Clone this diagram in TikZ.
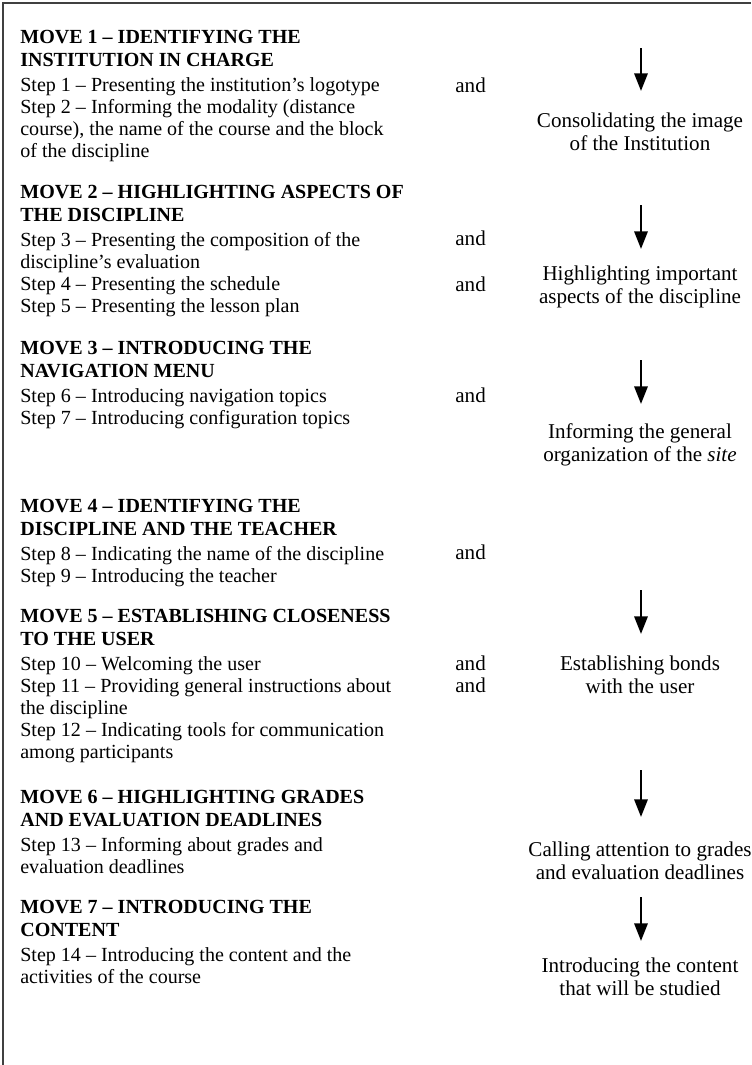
\documentclass[tikz,border=0pt]{standalone}
\usepackage{fontspec}
\setmainfont{Liberation Serif}
\usetikzlibrary{arrows.meta,positioning}

\begin{document}
\begin{tikzpicture}[x=0.02cm,y=-0.02cm,
  movetext/.style={anchor=north west,align=left,inner sep=0pt,font=\fontsize{11.4}{12.6}\selectfont},
  andtext/.style={anchor=base west,inner sep=0pt,font=\fontsize{12}{12.6}\selectfont},
  goal/.style={anchor=north,align=center,inner sep=0pt,font=\fontsize{12}{13.2}\selectfont},
  flow/.style={line width=1.4pt,-{Triangle[width=7.5pt,length=10pt]}},
  frame/.style={line width=0.8pt,black!75}]
\useasboundingbox (0,0) rectangle (751,1065);
\draw[frame] (3,1065) -- (3,3) -- (751,3);

% left column: moves and steps
\node[movetext] (m1) at (20,30.3) {\textbf{MOVE 1 – IDENTIFYING THE}\\ \textbf{INSTITUTION IN CHARGE}\\[1.6pt]
Step 1 – Presenting the institution’s logotype\\
Step 2 – Informing the modality (distance\\
course), the name of the course and the block\\
of the discipline};
\node[movetext] (m2) at (20,185.3) {\textbf{MOVE 2 – HIGHLIGHTING ASPECTS OF}\\ \textbf{THE DISCIPLINE}\\[1.6pt]
Step 3 – Presenting the composition of the\\
discipline’s evaluation\\
Step 4 – Presenting the schedule\\
Step 5 – Presenting the lesson plan};
\node[movetext] (m3) at (20,341.3) {\textbf{MOVE 3 – INTRODUCING THE}\\ \textbf{NAVIGATION MENU}\\[1.6pt]
Step 6 – Introducing navigation topics\\
Step 7 – Introducing configuration topics};
\node[movetext] (m4) at (20,499.3) {\textbf{MOVE 4 – IDENTIFYING THE}\\ \textbf{DISCIPLINE AND THE TEACHER}\\[1.6pt]
Step 8 – Indicating the name of the discipline\\
Step 9 – Introducing the teacher};
\node[movetext] (m5) at (20,609.3) {\textbf{MOVE 5 – ESTABLISHING CLOSENESS}\\ \textbf{TO THE USER}\\[1.6pt]
Step 10 – Welcoming the user\\
Step 11 – Providing general instructions about\\
the discipline\\
Step 12 – Indicating tools for communication\\
among participants};
\node[movetext] (m6) at (20,790.3) {\textbf{MOVE 6 – HIGHLIGHTING GRADES}\\ \textbf{AND EVALUATION DEADLINES}\\[1.6pt]
Step 13 – Informing about grades and\\
evaluation deadlines};
\node[movetext] (m7) at (20,900.3) {\textbf{MOVE 7 – INTRODUCING THE}\\ \textbf{CONTENT}\\[1.6pt]
Step 14 – Introducing the content and the\\
activities of the course};

% and column
\node[andtext] (a1) at (455,92) {and};
\node[andtext] (a2) at (455,245) {and};
\node[andtext] (a3) at (455,291) {and};
\node[andtext] (a4) at (455,402) {and};
\node[andtext] (a5) at (455,559) {and};
\node[andtext] (a6) at (455,670) {and};
\node[andtext] (a7) at (455,692) {and};

% right column: purposes
\node[goal] (g1) at (640,112.6) {Consolidating the image\\of the Institution};
\node[goal] (g2) at (640,265.6) {Highlighting important\\aspects of the discipline};
\node[goal] (g3) at (640,423.6) {Informing the general\\organization of the \textit{site}};
\node[goal] (g5) at (640,655.6) {Establishing bonds\\with the user};
\node[goal] (g6) at (640,841.6) {Calling attention to grades\\and evaluation deadlines};
\node[goal] (g7) at (640,957.6) {Introducing the content\\that will be studied};

\coordinate (s1) at (641,48);  \coordinate (e1) at (641,91);
\coordinate (s2) at (641,205); \coordinate (e2) at (641,249);
\coordinate (s3) at (641,360); \coordinate (e3) at (641,404);
\coordinate (s5) at (641,590); \coordinate (e5) at (641,634);
\coordinate (s6) at (641,770); \coordinate (e6) at (641,817);
\coordinate (s7) at (641,897); \coordinate (e7) at (641,941);
\foreach \i in {1,2,3,5,6,7}
  \draw[flow] (s\i) -- (e\i);
\end{tikzpicture}
\end{document}
